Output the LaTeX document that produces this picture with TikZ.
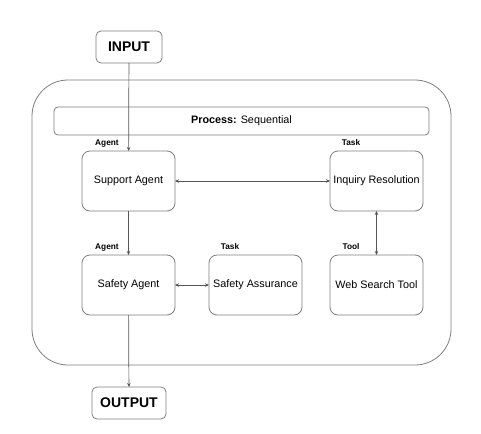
\documentclass[tikz,border=0pt]{standalone}
\usepackage{fontspec}
\setmainfont{Liberation Sans}
\usetikzlibrary{arrows.meta}
\definecolor{boxline}{HTML}{7F7F7F}
\definecolor{arrowline}{HTML}{555555}
\begin{document}
\begin{tikzpicture}[x=1pt,y=-1pt,
  every node/.style={inner sep=0pt, outer sep=0pt},
  card/.style={draw=boxline, line width=0.8pt, rounded corners=8pt, minimum width=93pt, minimum height=60pt, font=\fontsize{10.8}{12}\selectfont, align=center},
  iobox/.style={draw=boxline, line width=0.8pt, rounded corners=5pt, minimum height=32pt, font=\bfseries\fontsize{14}{16}\selectfont},
  tag/.style={font=\bfseries\fontsize{8.3}{10}\selectfont, anchor=base},
  conn/.style={draw=arrowline, line width=0.7pt, -{Stealth[length=4pt,width=3.5pt]}},
  biconn/.style={draw=arrowline, line width=0.7pt, {Stealth[length=4pt,width=3.5pt]}-{Stealth[length=4pt,width=3.5pt]}}
]
\useasboundingbox (0,0) rectangle (481,433);
\fill[white] (0,0) rectangle (481,433);
% outer container
\draw[boxline, line width=0.8pt, rounded corners=36pt] (32,80) rectangle (451,365);
% process bar
\node[draw=boxline, line width=0.8pt, rounded corners=4pt, minimum width=375pt, minimum height=28pt, font=\fontsize{10.8}{12}\selectfont] (proc) at (241.5,121) {\textbf{Process:} Sequential};
% io
\node[iobox, minimum width=66pt] (in) at (129,47) {INPUT};
\node[iobox, minimum width=74pt] (out) at (129,403) {OUTPUT};
% cards
\node[card] (support) at (128.5,181) {Support Agent};
\node[card] (inquiry) at (376.5,181) {Inquiry Resolution};
\node[card] (safety) at (128.5,285) {Safety Agent};
\node[card] (assure) at (255.5,285) {Safety Assurance};
\node[card] (web) at (376.5,285) {Web Search Tool};
% tags
\node[tag] (t1) at (107,145.5) {Agent};
\node[tag] (t2) at (351,145.5) {Task};
\node[tag] (t3) at (107,249.5) {Agent};
\node[tag] (t4) at (230,249.5) {Task};
\node[tag] (t5) at (351,249.5) {Tool};
% connectors
\draw[conn] (in) -- (support);
\draw[conn] (support) -- (safety);
\draw[conn] (safety) -- (out);
\draw[biconn] (support) -- (inquiry);
\draw[biconn] (safety) -- (assure);
\draw[biconn] (inquiry) -- (web);
\end{tikzpicture}
\end{document}
